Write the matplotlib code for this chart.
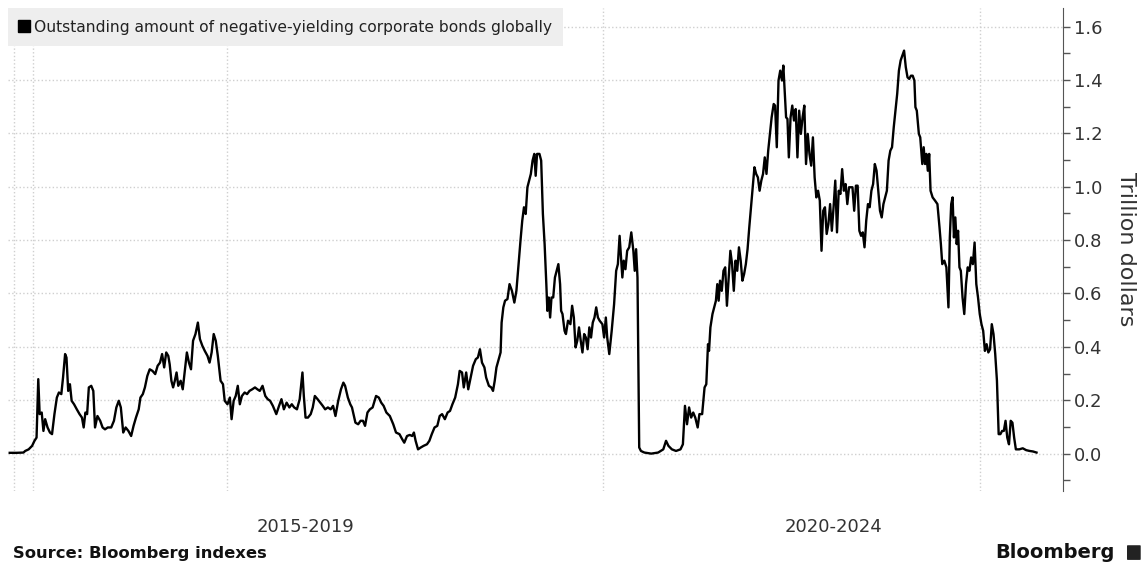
import pandas as pd
import matplotlib.pyplot as plt
from matplotlib.lines import Line2D
from matplotlib.patches import FancyBboxPatch

# weekly readings, days counted from the first observation window
days_a = [25, 45, 65, 70, 80, 90, 97, 103, 108, 112,
          118, 123, 128, 135, 142, 148, 155, 162, 168, 175,
          180, 186, 190, 195, 200, 205, 212, 220, 228, 235,
          240, 245, 250, 255, 262, 268, 273, 280, 288, 295,
          302, 310, 320, 328, 335, 342, 348, 355, 362, 370,
          378, 385, 392, 400, 405, 412, 418, 425, 432, 440,
          448, 455, 462, 468, 474, 480, 486, 490, 495, 500,
          505, 510, 515, 522, 528, 535, 540, 546, 552, 558,
          565, 572, 578, 585, 592, 600, 606, 612, 618, 624,
          630, 638, 645, 650, 658, 665, 670, 676, 682, 688,
          694, 700, 708, 715, 722, 730, 738, 745, 752, 760,
          768, 775, 782, 790, 800, 808, 815, 822, 830, 838,
          845, 852, 860, 868, 876, 880, 885, 892, 900, 906,
          912, 920, 928, 935, 942, 950, 958, 965, 972, 980,
          988, 995, 1000, 1008, 1015, 1020, 1030, 1038, 1045, 1052,
          1058, 1065, 1072, 1080, 1090, 1098, 1105, 1112, 1120, 1130,
          1140, 1148, 1158, 1166, 1172, 1180, 1188, 1195, 1200, 1205,
          1212, 1220, 1228, 1238, 1245, 1252, 1260, 1268, 1275, 1282,
          1290, 1298, 1305, 1312, 1320, 1328, 1333, 1340, 1345, 1352,
          1358, 1365, 1372, 1380, 1386, 1392, 1398, 1405, 1410, 1418,
          1425, 1430, 1435, 1440, 1448, 1452, 1455, 1460, 1465, 1472,
          1478, 1485, 1492, 1498]
amount_a = [0.003, 0.003, 0.004, 0.010, 0.016, 0.029, 0.048, 0.060, 0.279, 0.148,
            0.154, 0.085, 0.129, 0.098, 0.079, 0.073, 0.148, 0.210, 0.229, 0.223,
            0.285, 0.373, 0.360, 0.235, 0.260, 0.198, 0.185, 0.166, 0.148, 0.135,
            0.098, 0.154, 0.148, 0.248, 0.254, 0.235, 0.098, 0.141, 0.123, 0.098,
            0.091, 0.098, 0.098, 0.123, 0.173, 0.198, 0.173, 0.079, 0.098, 0.085,
            0.066, 0.104, 0.135, 0.166, 0.210, 0.223, 0.248, 0.291, 0.316, 0.310,
            0.298, 0.329, 0.341, 0.373, 0.323, 0.379, 0.366, 0.335, 0.273, 0.248,
            0.273, 0.304, 0.254, 0.273, 0.241, 0.323, 0.379, 0.341, 0.316, 0.423,
            0.448, 0.491, 0.429, 0.404, 0.385, 0.366, 0.341, 0.379, 0.448, 0.423,
            0.366, 0.273, 0.260, 0.198, 0.185, 0.210, 0.129, 0.198, 0.216, 0.254,
            0.185, 0.216, 0.229, 0.223, 0.235, 0.241, 0.248, 0.241, 0.235, 0.254,
            0.216, 0.204, 0.198, 0.179, 0.148, 0.179, 0.204, 0.166, 0.191, 0.173,
            0.185, 0.173, 0.166, 0.204, 0.304, 0.216, 0.135, 0.135, 0.148, 0.173,
            0.216, 0.204, 0.191, 0.179, 0.166, 0.173, 0.166, 0.179, 0.141, 0.198,
            0.241, 0.266, 0.254, 0.210, 0.185, 0.173, 0.116, 0.110, 0.123, 0.123,
            0.104, 0.154, 0.166, 0.173, 0.216, 0.210, 0.191, 0.179, 0.154, 0.141,
            0.110, 0.079, 0.073, 0.054, 0.041, 0.066, 0.070, 0.066, 0.079, 0.048,
            0.016, 0.023, 0.029, 0.035, 0.048, 0.073, 0.098, 0.104, 0.141, 0.148,
            0.129, 0.154, 0.160, 0.185, 0.210, 0.260, 0.310, 0.304, 0.248, 0.304,
            0.241, 0.285, 0.329, 0.354, 0.360, 0.391, 0.341, 0.323, 0.285, 0.254,
            0.248, 0.235, 0.273, 0.323, 0.360, 0.379, 0.491, 0.548, 0.573, 0.579,
            0.635, 0.610, 0.566, 0.610]

days_b = [1510, 1515, 1520, 1525, 1530, 1535, 1540, 1545, 1550, 1554,
          1558, 1565, 1570, 1575, 1580, 1585, 1588, 1592, 1596, 1600,
          1605, 1610, 1615, 1620, 1625, 1628, 1632, 1638, 1642, 1648,
          1655, 1660, 1665, 1670, 1675, 1680, 1685, 1690, 1695, 1700,
          1705, 1710, 1715, 1720, 1725, 1730, 1735, 1740, 1748, 1753,
          1758, 1762, 1768, 1775, 1782, 1788, 1793, 1798, 1802, 1806,
          1810, 1815, 1820, 1826, 1832, 1838, 1842, 1846, 1850, 1855,
          1860, 1870, 1890, 1910, 1925, 1933, 1940, 1950, 1962, 1975,
          1982, 1988, 1994, 2000, 2006, 2012, 2018, 2025, 2030, 2038,
          2045, 2050, 2055, 2058, 2062, 2068, 2073, 2078, 2082, 2086,
          2090, 2095, 2100, 2105, 2110, 2115, 2120, 2125, 2130, 2135,
          2140, 2145, 2150, 2155, 2160, 2165, 2170, 2175, 2180, 2185,
          2190, 2195, 2200, 2205, 2210, 2215, 2220, 2225, 2230, 2235,
          2240, 2246, 2250, 2255, 2260, 2265, 2270, 2274, 2278, 2282,
          2286, 2290, 2295, 2300, 2305, 2310, 2315, 2320, 2325, 2330,
          2335, 2340, 2345, 2350, 2355, 2360, 2365, 2370, 2375, 2380,
          2385, 2390, 2395, 2400, 2405, 2410, 2415, 2420, 2425, 2430,
          2435, 2440, 2445, 2450, 2455, 2460, 2465, 2470, 2475, 2480,
          2485, 2490, 2495, 2500, 2505, 2510, 2515, 2520, 2525, 2530,
          2535, 2540, 2545, 2550, 2555, 2560, 2565, 2570, 2575, 2580,
          2585, 2590, 2595, 2600, 2605, 2610, 2615, 2620, 2625, 2630,
          2635, 2640, 2645, 2650, 2655, 2658, 2662, 2668, 2672, 2675,
          2678, 2682, 2686, 2690, 2694, 2698, 2702, 2708, 2715, 2722,
          2728, 2732, 2736, 2742, 2748, 2754, 2758, 2762, 2766, 2770,
          2774, 2778, 2782, 2786, 2790, 2795, 2800, 2805, 2810, 2815,
          2820, 2825, 2830, 2835, 2840, 2845, 2850, 2855, 2860, 2865,
          2870, 2875, 2880, 2885, 2890, 2895, 2900, 2905, 2910, 2915,
          2920, 2925, 2930, 2935, 2940, 2945, 2950, 2960, 2970, 2980,
          2990, 3000, 3010]
amount_b = [0.800, 0.873, 0.923, 0.898, 0.998, 1.023, 1.048, 1.098, 1.123, 1.041,
            1.123, 1.123, 1.098, 0.898, 0.785, 0.635, 0.535, 0.585, 0.510, 0.585,
            0.585, 0.660, 0.685, 0.710, 0.635, 0.535, 0.523, 0.460, 0.448, 0.498,
            0.485, 0.554, 0.510, 0.398, 0.423, 0.473, 0.423, 0.379, 0.448, 0.435,
            0.391, 0.473, 0.435, 0.491, 0.510, 0.548, 0.510, 0.498, 0.485, 0.435,
            0.510, 0.435, 0.373, 0.460, 0.560, 0.685, 0.710, 0.816, 0.735, 0.660,
            0.723, 0.691, 0.760, 0.773, 0.829, 0.760, 0.685, 0.766, 0.660, 0.023,
            0.010, 0.004, 0.000, 0.004, 0.016, 0.048, 0.029, 0.016, 0.010, 0.016,
            0.035, 0.179, 0.110, 0.173, 0.135, 0.154, 0.135, 0.098, 0.148, 0.148,
            0.248, 0.260, 0.410, 0.385, 0.473, 0.523, 0.548, 0.573, 0.635, 0.573,
            0.648, 0.610, 0.685, 0.698, 0.554, 0.660, 0.760, 0.710, 0.610, 0.723,
            0.685, 0.773, 0.723, 0.648, 0.673, 0.710, 0.766, 0.848, 0.923, 0.998,
            1.073, 1.048, 1.035, 0.985, 1.023, 1.048, 1.110, 1.048, 1.135, 1.198,
            1.260, 1.310, 1.304, 1.148, 1.398, 1.435, 1.398, 1.454, 1.360, 1.260,
            1.254, 1.110, 1.260, 1.304, 1.248, 1.291, 1.110, 1.285, 1.198, 1.260,
            1.304, 1.085, 1.198, 1.123, 1.079, 1.185, 1.035, 0.960, 0.985, 0.948,
            0.760, 0.910, 0.923, 0.823, 0.860, 0.935, 0.835, 0.923, 1.023, 0.829,
            0.985, 0.973, 1.066, 0.985, 1.010, 0.935, 0.998, 0.998, 0.998, 0.910,
            1.004, 1.004, 0.835, 0.816, 0.829, 0.773, 0.873, 0.935, 0.923, 0.985,
            1.010, 1.085, 1.060, 0.985, 0.910, 0.885, 0.935, 0.960, 0.985, 1.098,
            1.135, 1.148, 1.223, 1.285, 1.348, 1.435, 1.473, 1.491, 1.510, 1.448,
            1.410, 1.404, 1.416, 1.416, 1.398, 1.298, 1.285, 1.198, 1.185, 1.135,
            1.085, 1.148, 1.085, 1.123, 1.060, 1.123, 0.985, 0.960, 0.948, 0.935,
            0.848, 0.785, 0.710, 0.723, 0.698, 0.548, 0.810, 0.935, 0.960, 0.810,
            0.885, 0.785, 0.835, 0.698, 0.685, 0.585, 0.523, 0.635, 0.698, 0.685,
            0.735, 0.710, 0.791, 0.635, 0.585, 0.523, 0.485, 0.460, 0.385, 0.410,
            0.379, 0.391, 0.485, 0.448, 0.373, 0.273, 0.073, 0.073, 0.085, 0.085,
            0.123, 0.060, 0.035, 0.123, 0.116, 0.060, 0.016, 0.016, 0.020, 0.013,
            0.010, 0.008, 0.004]

start = pd.Timestamp('2015-03-17')
grid_dates = ['2015-04-24', '2015-06-18', '2017-01-01', '2020-01-01', '2023-01-01']
period_labels = ['2015-2019', '2020-2024']
y_ticks = [0.0, 0.2, 0.4, 0.6, 0.8, 1.0, 1.2, 1.4, 1.6]

dates = start + pd.to_timedelta(days_a + days_b, unit='D')
amount = amount_a + amount_b

fig = plt.figure(figsize=(11.43, 5.65), dpi=100)
ax = fig.add_axes([0.007, 0.131, 0.923, 0.855])

ax.plot(dates, amount, color='black', linewidth=1.7)

x_left = start + pd.Timedelta(days=20)
x_right = start + pd.Timedelta(days=3087)
ax.set_xlim(x_left, x_right)
ax.set_ylim(-0.14, 1.67)

# axes / ticks
for side in ['top', 'left', 'bottom']:
    ax.spines[side].set_visible(False)
ax.spines['right'].set_color('#555555')
ax.yaxis.tick_right()
ax.set_yticks(y_ticks)
ax.set_yticklabels([f'{v:.1f}' for v in y_ticks])
ax.set_yticks([v + 0.1 for v in [-0.2] + y_ticks[:-1]], minor=True)
ax.tick_params(axis='y', which='both', direction='out', length=5, width=1,
               color='#555555', labelsize=13, labelcolor='#333333', pad=3)
ax.set_xticks(pd.to_datetime(grid_dates))
ax.tick_params(axis='x', length=0, labelbottom=False)
ax.grid(axis='both', which='major', color='#cfcfcf', linestyle=':', linewidth=1)
ax.yaxis.set_label_position('right')
ax.set_ylabel('Trillion dollars', fontsize=16, color='#333333', rotation=270,
              labelpad=24)

# period labels under the plot
split = pd.Timestamp('2020-01-01')
mids = [x_left + (split - x_left) / 2, split + (x_right - split) / 2]
for m, lab in zip(mids, period_labels):
    ax.text(m, -0.075, lab, transform=ax.get_xaxis_transform(),
            ha='center', va='center', fontsize=13, color='#333333')

# legend box
handle = Line2D([], [], color='black', marker='s', linestyle='none', markersize=9)
leg = ax.legend([handle], ['Outstanding amount of negative-yielding corporate bonds globally'],
                loc='upper left', bbox_to_anchor=(0, 1), borderaxespad=0,
                fontsize=11.2, frameon=True, fancybox=False, handlelength=0.6,
                handletextpad=0.3, borderpad=0.75)
leg.get_frame().set_facecolor('#eeeeee')
leg.get_frame().set_edgecolor('none')
leg.get_frame().set_alpha(1)
for t in leg.get_texts():
    t.set_color('#222222')

fig.text(0.011, 0.021, 'Source: Bloomberg indexes', fontsize=11.8, fontweight='bold',
         color='#111111', ha='left', va='center')
fig.text(0.975, 0.023, 'Bloomberg', fontsize=14, fontweight='bold',
         color='#111111', ha='right', va='center')
fig.patches.append(FancyBboxPatch((0.987, 0.010), 0.010, 0.024, boxstyle='round,pad=0.001',
                                  transform=fig.transFigure, facecolor='#222222',
                                  edgecolor='none'))

fig.savefig('out.png', dpi=100)
